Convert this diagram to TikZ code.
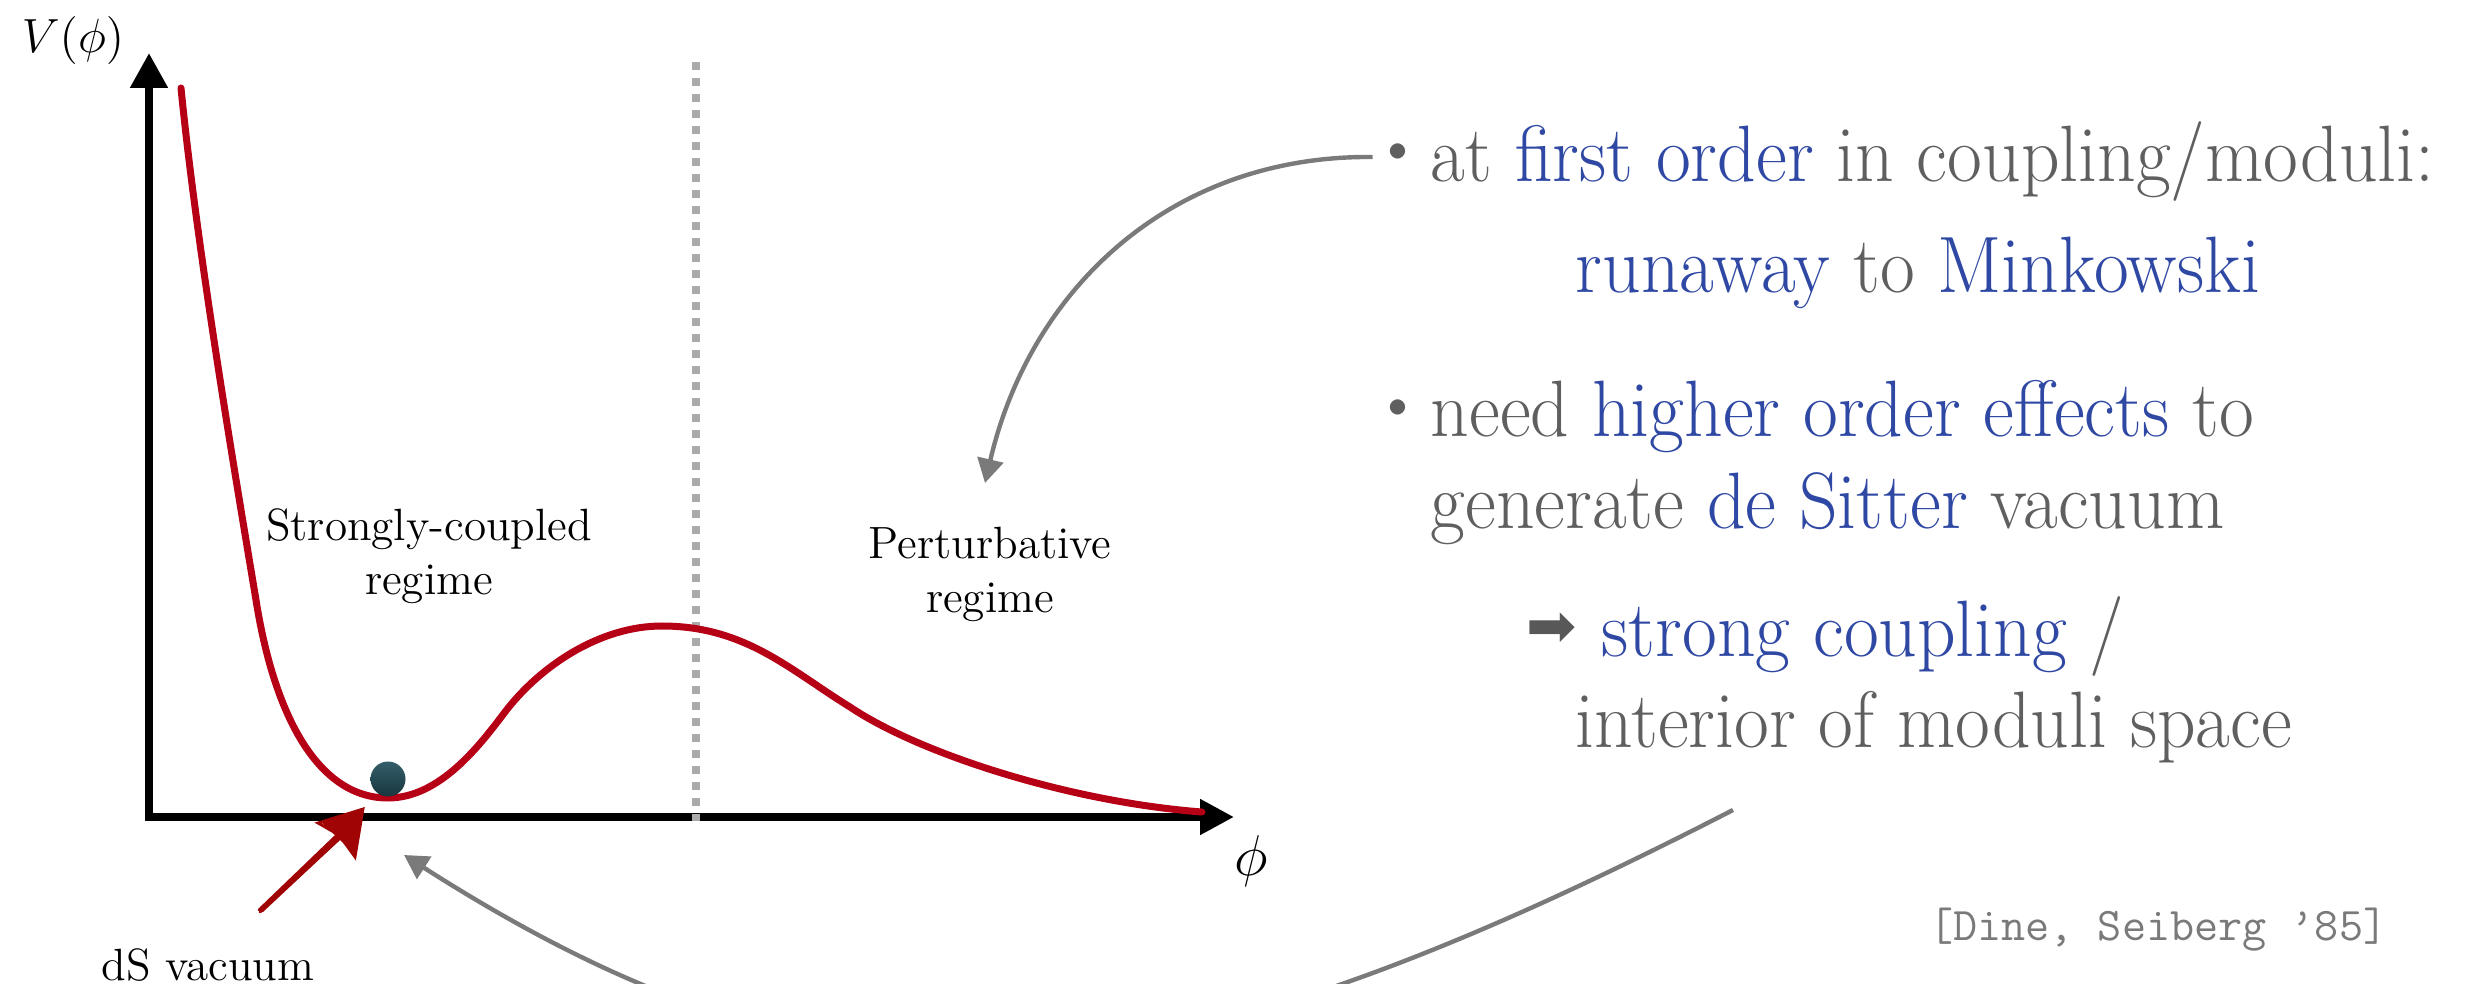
\documentclass[tikz,border=0pt]{standalone}
\usepackage{fontspec}
\newfontfamily\dejavu{DejaVu Sans}
\usetikzlibrary{arrows.meta}
\definecolor{curvered}{RGB}{182,0,22}
\definecolor{txtgray}{RGB}{95,95,95}
\definecolor{txtblue}{RGB}{47,72,164}
\definecolor{arrgray}{RGB}{122,122,122}
\definecolor{dotgray}{RGB}{170,170,170}
\definecolor{ballhi}{RGB}{52,94,106}
\definecolor{balllo}{RGB}{24,54,62}
\definecolor{sketchred}{RGB}{160,4,4}
\definecolor{darkarr}{RGB}{88,88,88}
\definecolor{citegray}{RGB}{122,122,122}
\newcommand{\bl}[1]{\textcolor{txtblue}{#1}}
\newcommand{\sx}[1]{\scalebox{0.945}[1]{#1}}
\begin{document}
\begin{tikzpicture}[x=0.25pt,y=-0.25pt,
  axisline/.style={line width=2pt, line join=miter},
  dotline/.style={draw=dotgray, line width=2pt, dash pattern=on 2pt off 2pt},
  potcurve/.style={draw=curvered, line width=1.75pt, line cap=round},
  conn/.style={draw=arrgray, line width=1.1pt, -{Triangle[length=6pt,width=6.5pt]}},
  sketch/.style={draw=sketchred, line width=0.7pt, line cap=round},
  rtxt/.style={text=txtgray, inner sep=0pt, anchor=base west, font=\fontsize{20}{24}\selectfont},
  bul/.style={text=txtgray, inner sep=0pt, font=\fontsize{17}{17}\selectfont},
  lbl/.style={align=center, inner sep=0pt, font=\fontsize{11.3}{13.5}\selectfont}]
\useasboundingbox (0,0) rectangle (2467,984);
\clip (0,0) rectangle (2467,984);
% axes
\coordinate (O) at (149,817);
\coordinate (Ytop) at (149,53);
\coordinate (Xend) at (1234,817);
\draw[axisline,{Triangle[length=8.75pt,width=9pt]}-{Triangle[length=8.5pt,width=8.5pt]}] (Ytop) -- (O) -- (Xend);
% dotted divider
\coordinate (Dt) at (696,62);
\coordinate (Db) at (696,821);
\draw[dotline] (Dt) -- (Db);
% potential
\draw[potcurve] (181,88) .. controls (197,250) and (236,480) .. (256,600)
  .. controls (275,720) and (320,798) .. (388,798)
  .. controls (440,798) and (480,745) .. (505,712)
  .. controls (540,666) and (600,626) .. (662,626)
  .. controls (745,626) and (790,670) .. (850,707)
  .. controls (920,754) and (1070,802) .. (1202,812);
% ball
\node[circle, minimum size=8.75pt, inner sep=0pt, top color=ballhi, bottom color=balllo] (ball) at (388,779) {};
% axis labels
\node[inner sep=0pt, font=\fontsize{13}{13}\selectfont] (vlab) at (73,41) {$V(\phi)$};
\node[inner sep=0pt, font=\fontsize{15}{15}\selectfont] (philab) at (1251,861) {$\phi$};
% regime labels
\node[lbl] (sc) at (429,556) {Strongly-coupled\\regime};
\node[lbl] (pert) at (990,574) {Perturbative\\regime};
\node[inner sep=0pt, anchor=base, font=\fontsize{11.3}{13.5}\selectfont] (dsv) at (208,980) {dS vacuum};
% sketchy red arrow
\coordinate (dsS) at (260,912);
\coordinate (dsM) at (338,837);
\coordinate (dsT) at (363,809);
\coordinate (dsA) at (321,822);
\coordinate (dsB) at (355,854);
\draw[sketch] (dsS) -- (dsM);
\draw[sketch] ([shift={(2,-1)}]dsS) -- ([shift={(2,1)}]dsM);
\draw[sketch] ([shift={(-1,-2)}]dsS) -- ([shift={(-2,-1)}]dsM);
\draw[sketch] ([shift={(4,-4)}]dsS) -- ([shift={(1,2)}]dsM);
\fill[sketchred] (dsT) -- (dsA) -- (dsB) -- cycle;
\draw[sketch] (dsT) -- ([shift={(-3,1)}]dsA) -- ([shift={(1,-2)}]dsM) -- ([shift={(0,3)}]dsB) -- cycle;
% right-hand text
\node[bul] (b1) at (1398,157) {\textbullet};
\node[bul] (b2) at (1398,413) {\textbullet};
\node[rtxt] (l1) at (1430,182) {\sx{at \bl{first order} in coupling/moduli:}};
\node[rtxt] (l2) at (1575,293) {\sx{\bl{runaway} to \bl{Minkowski}}};
\node[rtxt] (l3) at (1430,437) {\sx{need \bl{higher order effects} to}};
\node[rtxt] (l4) at (1430,528) {\sx{generate \bl{de Sitter} vacuum}};
\node[inner sep=0pt, text=darkarr, font=\dejavu\fontsize{15}{15}\selectfont] (arr) at (1552,630) {➡};
\node[rtxt] (l5) at (1601,657) {\sx{\bl{strong coupling} /}};
\node[rtxt] (l6) at (1575,747) {\sx{interior of moduli space}};
\node[inner sep=0pt, anchor=base east, text=citegray, font=\ttfamily\fontsize{11.7}{14}\selectfont] (cite) at (2388,940) {[Dine, Seiberg ’85]};
% gray connectors
\coordinate (tip1) at (985,483);
\draw[conn] (b1.west) .. controls (1170,155) and (1030,290) .. (tip1);
\coordinate (s2) at (1733,810);
\coordinate (t2) at (404,855);
\draw[conn] (s2) .. controls (1150,1110) and (850,1140) .. (t2);
\end{tikzpicture}
\end{document}
